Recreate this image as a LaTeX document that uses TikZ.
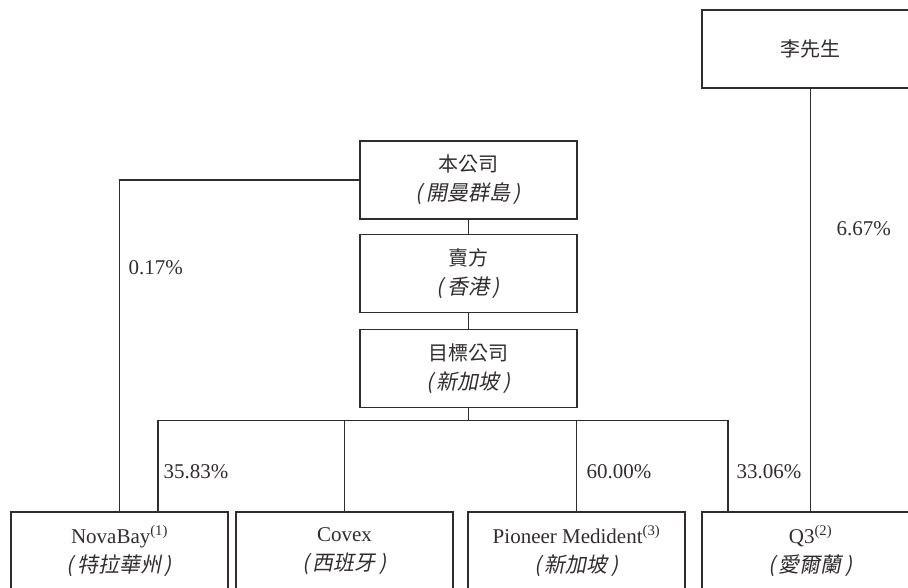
\documentclass[tikz,border=0pt]{standalone}
\usepackage{fontspec}
\setmainfont{Liberation Serif}
\newfontfamily\cjk{Noto Sans CJK TC}
\newfontfamily\cjkit{Noto Sans CJK TC}[FakeSlant=0.2]
\usepackage{tikz}
\usetikzlibrary{positioning,calc}
\definecolor{inkgray}{RGB}{50,45,45}
\newcommand{\place}[1]{{\cjkit (\,#1\,)}}

\begin{document}
\begin{tikzpicture}
[
	              x = 1pt,
	              y = -1pt,
	     line width = 1.1pt,
	           draw = inkgray,
	  entity/.style = { draw=inkgray, rectangle, minimum width=217pt, minimum height=78pt,
	                    inner sep=0pt, align=center, text=inkgray,
	                    font=\fontsize{21}{29}\selectfont },
	   share/.style = { draw=none, fill=none, anchor=west, text=inkgray, inner sep=0pt,
	                    font=\fontsize{21}{24}\selectfont }
]
	\clip (0,0) rectangle (908,587);

	% owners
	\node (lee)     at (810.5,49)    [entity] {\cjk\fontsize{20}{29}\selectfont 李先生};
	\node (company) at (468.5,180)   [entity] {{\cjk\fontsize{20}{29}\selectfont 本公司}\\\place{開曼群島}};
	\node (seller)  at (468.5,273.5) [entity] {{\cjk\fontsize{20}{29}\selectfont 賣方}\\\place{香港}};
	\node (target)  at (468.5,368.5) [entity] {{\cjk\fontsize{20}{29}\selectfont 目標公司}\\\place{新加坡}};

	% investees
	\node (novabay) at (119.5,551) [entity] {NovaBay\textsuperscript{(1)}\\\place{特拉華州}};
	\node (covex)   at (344.5,551) [entity] {Covex\\\place{西班牙}};
	\node (pioneer) at (576.5,551) [entity] {Pioneer Medident\textsuperscript{(3)}\\\place{新加坡}};
	\node (q3)      at (810.5,551) [entity] {Q3\textsuperscript{(2)}\\\place{愛爾蘭}};

	\coordinate (nbin) at ([xshift=38.5pt]novabay.north);
	\coordinate (q3in) at ([xshift=-82.5pt]q3.north);

	\draw (company) -- (seller) (seller) -- (target);
	\draw (company.west) -| (novabay.north);
	\draw (lee.south) -- (q3.north);
	\draw (target.south) -- ++(0,12.5) coordinate (bus);
	\draw (nbin) |- (bus) -| (q3in);
	\draw (bus -| covex.north) -- (covex.north);
	\draw (bus -| pioneer.north) -- (pioneer.north);

	% shareholdings
	\node (s1) at (128,268) [share] {0.17\%};
	\node (s2) at (836,229) [share] {6.67\%};
	\node (s3) at (163,472) [share] {35.83\%};
	\node (s4) at (586,472) [share] {60.00\%};
	\node (s5) at (736,472) [share] {33.06\%};

\end{tikzpicture}
\end{document}
